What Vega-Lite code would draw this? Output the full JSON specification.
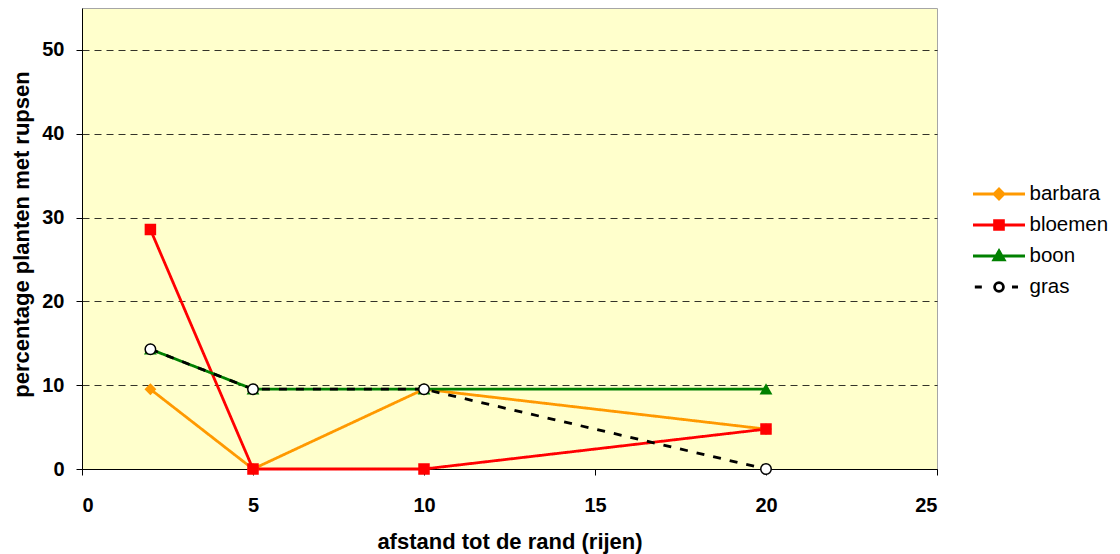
{
  "$schema": "https://vega.github.io/schema/vega-lite/v6.json",
  "width": 855,
  "height": 461,
  "autosize": {"type": "none"},
  "padding": {"left": 82, "top": 8, "right": 183, "bottom": 85},
  "background": "white",
  "config": {
    "font": "Liberation Sans",
    "view": {"fill": "#FFFFCC", "stroke": "#A6A6A6", "strokeWidth": 1},
    "axis": {
      "domainColor": "#000000",
      "domainWidth": 1,
      "tickColor": "#000000",
      "tickSize": 6,
      "labelFont": "Liberation Sans",
      "labelFontSize": 20,
      "labelFontWeight": "bold",
      "labelColor": "#000000",
      "titleFont": "Liberation Sans",
      "titleFontSize": 22,
      "titleFontWeight": "bold",
      "titleColor": "#000000"
    }
  },
  "data": {
    "values": [
      {"afstand": 2, "pct": 9.52, "serie": "barbara"},
      {"afstand": 5, "pct": 0, "serie": "barbara"},
      {"afstand": 10, "pct": 9.52, "serie": "barbara"},
      {"afstand": 20, "pct": 4.76, "serie": "barbara"},
      {"afstand": 2, "pct": 28.57, "serie": "bloemen"},
      {"afstand": 5, "pct": 0, "serie": "bloemen"},
      {"afstand": 10, "pct": 0, "serie": "bloemen"},
      {"afstand": 20, "pct": 4.76, "serie": "bloemen"},
      {"afstand": 2, "pct": 14.29, "serie": "boon"},
      {"afstand": 5, "pct": 9.52, "serie": "boon"},
      {"afstand": 10, "pct": 9.52, "serie": "boon"},
      {"afstand": 20, "pct": 9.52, "serie": "boon"},
      {"afstand": 2, "pct": 14.29, "serie": "gras"},
      {"afstand": 5, "pct": 9.52, "serie": "gras"},
      {"afstand": 10, "pct": 9.52, "serie": "gras"},
      {"afstand": 20, "pct": 0, "serie": "gras"}
    ]
  },
  "encoding": {
    "x": {
      "field": "afstand",
      "type": "quantitative",
      "scale": {"domain": [0, 25], "nice": false},
      "axis": {
        "values": [0, 5, 10, 15, 20, 25],
        "grid": false,
        "labelPadding": 20,
        "title": "afstand tot de rand (rijen)",
        "titleY": 79,
        "titleBaseline": "alphabetic"
      }
    },
    "y": {
      "field": "pct",
      "type": "quantitative",
      "scale": {"domain": [0, 55], "nice": false},
      "axis": {
        "values": [0, 10, 20, 30, 40, 50],
        "grid": true,
        "gridColor": "#000000",
        "gridDash": [7, 5],
        "gridOpacity": 0.8,
        "labelPadding": 12,
        "title": "percentage planten met rupsen",
        "titleAngle": -90,
        "titleX": -54,
        "titleY": 226,
        "titleAlign": "center",
        "titleBaseline": "alphabetic"
      }
    }
  },
  "layer": [
    {
      "mark": {"type": "line", "strokeWidth": 2.8},
      "encoding": {
        "color": {
          "field": "serie",
          "type": "nominal",
          "scale": {"domain": ["barbara", "bloemen", "boon", "gras"], "range": ["#FF9900", "#FF0000", "#008000", "#000000"]},
          "legend": null
        },
        "strokeDash": {
          "field": "serie",
          "type": "nominal",
          "scale": {"domain": ["barbara", "bloemen", "boon", "gras"], "range": [[1, 0], [1, 0], [1, 0], [8, 9]]},
          "legend": null
        }
      }
    },
    {
      "mark": {"type": "point", "filled": true, "opacity": 1, "strokeWidth": 1.5},
      "encoding": {
        "shape": {
          "field": "serie",
          "type": "nominal",
          "scale": {"domain": ["barbara", "bloemen", "boon", "gras"], "range": ["diamond", "square", "triangle-up", "circle"]},
          "legend": null
        },
        "fill": {
          "field": "serie",
          "type": "nominal",
          "scale": {"domain": ["barbara", "bloemen", "boon", "gras"], "range": ["#FF9900", "#FF0000", "#008000", "#FFFFFF"]},
          "legend": null
        },
        "stroke": {
          "field": "serie",
          "type": "nominal",
          "scale": {"domain": ["barbara", "bloemen", "boon", "gras"], "range": ["#FF9900", "#FF0000", "#008000", "#000000"]},
          "legend": null
        },
        "size": {
          "field": "serie",
          "type": "nominal",
          "scale": {"domain": ["barbara", "bloemen", "boon", "gras"], "range": [95, 110, 115, 100]},
          "legend": null
        }
      }
    },
    {
      "mark": {"type": "point", "filled": true, "opacity": 0},
      "encoding": {
        "shape": {
          "field": "serie",
          "type": "nominal",
          "scale": {"range": [
            "M-1,0H1M0,-0.19L0.19,0L0,0.19L-0.19,0Z",
            "M-1,0H1M-0.17,-0.17H0.17V0.17H-0.17Z",
            "M-1,0H1M0,-0.2L0.2,0.15H-0.2Z",
            "M-0.93,0H-0.66M0.5,0H0.73M0.17,0A0.17,0.17,0,1,1,-0.17,0A0.17,0.17,0,1,1,0.17,0Z"
          ]},
          "legend": {"orient": "none", "legendX": 889.5, "legendY": 170.5, "title": null, "padding": 0, "symbolSize": 2704, "symbolStrokeWidth": 2.8, "symbolOpacity": 1, "labelFont": "Liberation Sans", "labelFontSize": 20.5, "labelColor": "#000000", "labelOffset": 3, "clipHeight": 31, "rowPadding": 0}
        },
        "fill": {
          "field": "serie",
          "type": "nominal",
          "scale": {"range": ["#FF9900", "#FF0000", "#008000", "#FFFFFF"]},
          "legend": {"orient": "none", "legendX": 889.5, "legendY": 170.5, "title": null, "padding": 0, "symbolSize": 2704, "symbolStrokeWidth": 2.8, "symbolOpacity": 1, "labelFont": "Liberation Sans", "labelFontSize": 20.5, "labelColor": "#000000", "labelOffset": 3, "clipHeight": 31, "rowPadding": 0}
        },
        "stroke": {
          "field": "serie",
          "type": "nominal",
          "scale": {"range": ["#FF9900", "#FF0000", "#008000", "#000000"]},
          "legend": {"orient": "none", "legendX": 889.5, "legendY": 170.5, "title": null, "padding": 0, "symbolSize": 2704, "symbolStrokeWidth": 2.8, "symbolOpacity": 1, "labelFont": "Liberation Sans", "labelFontSize": 20.5, "labelColor": "#000000", "labelOffset": 3, "clipHeight": 31, "rowPadding": 0}
        }
      }
    }
  ],
  "resolve": {
    "scale": {
      "color": "independent",
      "strokeDash": "independent",
      "shape": "independent",
      "fill": "independent",
      "stroke": "independent",
      "size": "independent"
    }
  }
}
